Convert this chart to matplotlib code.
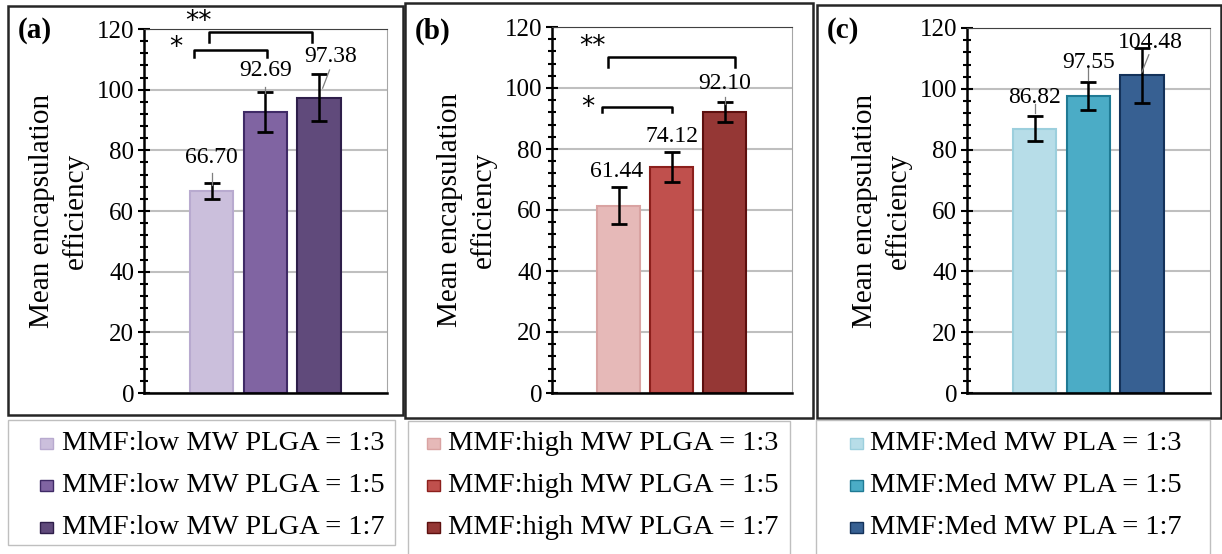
import numpy as np
import matplotlib
matplotlib.use("Agg")
import matplotlib.pyplot as plt
from matplotlib.patches import Rectangle
from matplotlib.ticker import MultipleLocator

plt.rcParams['font.family'] = ['Liberation Serif', 'DejaVu Serif']

# ---- data ----
panel_tags = ['(a)', '(b)', '(c)']
means_a = [66.70, 92.69, 97.38]
means_b = [61.44, 74.12, 92.10]
means_c = [86.82, 97.55, 104.48]
errs_a = [2.6, 6.6, 7.7]
errs_b = [6.0, 4.9, 3.4]
errs_c = [4.1, 4.6, 9.0]
names_a = ['MMF:low MW PLGA = 1:3', 'MMF:low MW PLGA = 1:5', 'MMF:low MW PLGA = 1:7']
names_b = ['MMF:high MW PLGA = 1:3', 'MMF:high MW PLGA = 1:5', 'MMF:high MW PLGA = 1:7']
names_c = ['MMF:Med MW PLA = 1:3', 'MMF:Med MW PLA = 1:5', 'MMF:Med MW PLA = 1:7']
yticks = [0, 20, 40, 60, 80, 100, 120]

# ---- styling / placement ----
fill_a = ['#CBBFDC', '#8064A2', '#604A7B']
edge_a = ['#B8AACF', '#3F2A66', '#2E1E4A']
fill_b = ['#E6B9B8', '#C0504D', '#953735']
edge_b = ['#D9A3A2', '#8C1F1C', '#5C0F0E']
fill_c = ['#B7DDE8', '#4BACC6', '#376092']
edge_c = ['#9CCFDD', '#1F7A94', '#14325A']

# label anchor (x offset from bar, y in data units) and leader line ends
lab_a = [(0.0, 77.5), (0.0, 106.2), (0.22, 110.8)]
lab_b = [(-0.04, 72.5), (0.0, 84.0), (0.0, 101.6)]
lab_c = [(0.0, 97.3), (0.0, 108.5), (0.15, 115.1)]
lead_a = [((0, 68.6), (0, 72.5)), ((1, 99.0), (1, 101.0)), ((2.07, 100.5), (2.2, 106.5))]
lead_b = [None, None, ((2, 94.7), (2, 97.0))]
lead_c = [((0, 92.0), (0, 95.0)), ((1, 103.0), (1, 107.0)), ((2.0, 105.5), (2.13, 111.2))]

# significance brackets: (x0, x1, top, foot, star text, tx, ty)
sig_a = [(-0.32, 1.03, 113.1, 110.8, '*', -0.66, 113.6),
         (-0.04, 1.88, 118.9, 115.6, '**', -0.25, 122.3)]
sig_b = [(-0.32, 1.0, 93.8, 92.0, '*', -0.58, 93.4),
         (-0.21, 2.19, 110.2, 107.0, '**', -0.5, 113.6)]
sig_c = []

axes_px = [(144, 387, 29, 393), (552, 792, 27, 393), (967, 1210, 28, 393)]
frames_px = [(8, 403, 6, 415), (405, 813, 3, 418), (817, 1221, 5, 418)]
legbox_px = [(8, 395, 420, 545), (408, 790, 421, 556), (816, 1210, 420, 556)]
leg_sq_x = [40, 427, 850]
leg_txt_x = [62, 448, 870]
leg_rows_y = [443, 485, 527]

W, H = 1222, 554
fig = plt.figure(figsize=(W / 100, H / 100), dpi=100)

panels = [
    (means_a, errs_a, names_a, fill_a, edge_a, lab_a, lead_a, sig_a),
    (means_b, errs_b, names_b, fill_b, edge_b, lab_b, lead_b, sig_b),
    (means_c, errs_c, names_c, fill_c, edge_c, lab_c, lead_c, sig_c),
]

for i, (means, errs, names, fills, edges, labs, leads, sigs) in enumerate(panels):
    l, r, t, b = axes_px[i]
    ax = fig.add_axes([l / W, (H - b) / H, (r - l) / W, (b - t) / H])
    x = np.arange(len(means))
    ax.bar(x, means, width=0.81, color=fills, edgecolor=edges, linewidth=1.5, zorder=2)
    ax.errorbar(x, means, yerr=errs, fmt='none', ecolor='black', elinewidth=1.8,
                capsize=6, capthick=2.0, zorder=4)
    for j, (dx, ly) in enumerate(labs):
        ax.text(x[j] + dx, ly, f'{means[j]:.2f}', ha='center', va='center',
                fontsize=17, zorder=5, clip_on=False)
    for ld in leads:
        if ld is None:
            continue
        (x0, y0), (x1, y1) = ld
        ax.plot([x0, x1], [y0, y1], color='#7F7F7F', lw=0.9, zorder=5)
    for (x0, x1, top, foot, star, tx, ty) in sigs:
        ax.plot([x0, x0, x1, x1], [foot, top, top, foot], color='black', lw=1.8,
                clip_on=False, zorder=5)
        ax.text(tx, ty, star, ha='center', va='center', fontsize=19,
                family='DejaVu Sans', clip_on=False)
    ax.set_xlim(-1.26, 3.27)
    ax.set_ylim(0, 120)
    ax.set_yticks(yticks)
    ax.yaxis.set_minor_locator(MultipleLocator(4))
    ax.tick_params(axis='y', which='major', direction='inout', length=8, width=1.5,
                   labelsize=18, pad=3)
    ax.tick_params(axis='y', which='minor', direction='inout', length=6, width=1.5)
    ax.tick_params(axis='x', bottom=False, labelbottom=False)
    ax.grid(axis='y', color='#BFBFBF', lw=1.5, zorder=0)
    ax.set_axisbelow(True)
    ax.spines['left'].set_linewidth(1.8)
    ax.spines['bottom'].set_linewidth(1.8)
    ax.spines['top'].set_color('#404040')
    ax.spines['right'].set_color('#A6A6A6')
    ax.set_ylabel('Mean encapsulation\nefficiency', fontsize=21, linespacing=1.3,
                  labelpad=6)

    fl, fr, ft, fb = frames_px[i]
    fig.add_artist(Rectangle((fl / W, (H - fb) / H), (fr - fl) / W, (fb - ft) / H,
                             transform=fig.transFigure, fill=False,
                             edgecolor='#262626', lw=1.8))
    fig.text((fl + 10) / W, (H - 31) / H, panel_tags[i], fontsize=21,
             fontweight='bold', ha='left', va='center')

    gl, gr, gt, gb = legbox_px[i]
    fig.add_artist(Rectangle((gl / W, (H - gb) / H), (gr - gl) / W, (gb - gt) / H,
                             transform=fig.transFigure, fill=False,
                             edgecolor='#BFBFBF', lw=1.0))
    sx = leg_sq_x[i]
    for j, name in enumerate(names):
        ry = leg_rows_y[j]
        fig.add_artist(Rectangle((sx / W, (H - ry - 6) / H), 13 / W, 11 / H,
                                 transform=fig.transFigure, facecolor=fills[j],
                                 edgecolor=edges[j], lw=1.0))
        fig.text(leg_txt_x[i] / W, (H - ry) / H, name, fontsize=20.5,
                 ha='left', va='center')

fig.savefig('out.png', dpi=100)
